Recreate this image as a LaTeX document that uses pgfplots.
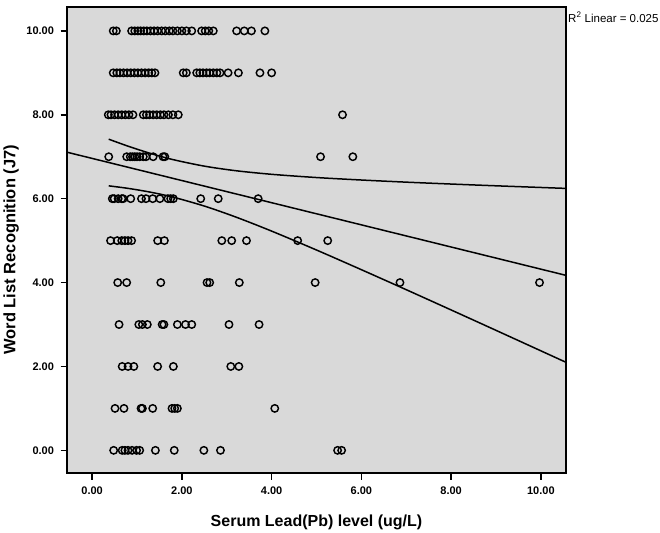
\documentclass[border=0pt]{standalone}
\usepackage{fontspec}
\setmainfont{Liberation Sans}
\usepackage{pgfplots}
\pgfplotsset{compat=1.18}
\definecolor{bggray}{RGB}{217,217,217}
\begin{document}
\begin{tikzpicture}[x=1pt,y=1pt]
\useasboundingbox (0,0) rectangle (660,532);
\begin{axis}[
  name=ax,
  at={(67pt,59pt)}, anchor=south west,
  width=499pt, height=466pt, scale only axis,
  xmin=-0.56, xmax=10.56, ymin=-0.54, ymax=10.57,
  axis background/.style={fill=bggray},
  axis line style={line width=1.6pt},
  xtick={0,2,4,6,8,10}, ytick={0,2,4,6,8,10},
  tick align=outside, xtick pos=bottom, ytick pos=left,
  major tick length=6.5pt, tick style={line width=1.5pt, black},
  ticklabel style={font=\fontsize{11}{13}\selectfont\bfseries},
  xticklabel style={yshift=-4pt},
  yticklabel style={xshift=-3pt},
  xlabel={Serum Lead(Pb) level (ug/L)},
  ylabel={Word List Recognition (J7)},
  xlabel style={at={(axis description cs:0.5,-0.105)}, anchor=center, font=\fontsize{16}{18}\selectfont\bfseries},
  ylabel style={at={(axis description cs:-0.112,0.479)}, anchor=center, font=\fontsize{16.5}{18}\selectfont\bfseries},
  clip=false,
  /pgf/number format/.cd, fixed, fixed zerofill, precision=2, assume math mode=true,
]
% scatter points
\addplot[only marks, mark=o, mark size=3.7pt, mark options={line width=1.45pt, draw=black}] table {
x y
0.47 10
0.54 10
0.88 10
0.95 10
1.02 10
1.08 10
1.15 10
1.22 10
1.30 10
1.38 10
1.46 10
1.55 10
1.63 10
1.72 10
1.80 10
1.90 10
2.00 10
2.10 10
2.22 10
2.44 10
2.52 10
2.60 10
2.70 10
3.22 10
3.39 10
3.55 10
3.85 10
0.47 9
0.55 9
0.62 9
0.70 9
0.78 9
0.86 9
0.94 9
1.02 9
1.10 9
1.18 9
1.26 9
1.33 9
1.40 9
2.03 9
2.10 9
2.33 9
2.40 9
2.47 9
2.55 9
2.62 9
2.70 9
2.78 9
2.85 9
3.03 9
3.26 9
3.74 9
4.00 9
0.36 8
0.42 8
0.50 8
0.58 8
0.66 8
0.74 8
0.82 8
0.91 8
1.14 8
1.21 8
1.28 8
1.36 8
1.44 8
1.52 8
1.60 8
1.70 8
1.80 8
1.92 8
5.58 8
0.37 7
0.77 7
0.85 7
0.90 7
0.95 7
1.00 7
1.06 7
1.14 7
1.20 7
1.36 7
1.58 7
1.62 7
5.09 7
5.81 7
0.45 6
0.49 6
0.58 6
0.66 6
0.69 6
0.86 6
1.10 6
1.20 6
1.35 6
1.51 6
1.69 6
1.75 6
1.81 6
2.42 6
2.81 6
3.70 6
0.41 5
0.56 5
0.66 5
0.73 5
0.80 5
0.88 5
1.46 5
1.61 5
2.89 5
3.11 5
3.44 5
4.58 5
5.25 5
0.57 4
0.77 4
1.53 4
2.56 4
2.62 4
3.28 4
4.97 4
6.86 4
9.97 4
0.60 3
1.04 3
1.12 3
1.23 3
1.56 3
1.60 3
1.90 3
2.08 3
2.22 3
3.05 3
3.72 3
0.67 2
0.80 2
0.93 2
1.46 2
1.81 2
3.09 2
3.27 2
0.51 1
0.71 1
1.09 1
1.12 1
1.35 1
1.78 1
1.84 1
1.90 1
4.07 1
0.48 0
0.67 0
0.73 0
0.80 0
0.89 0
0.99 0
1.06 0
1.41 0
1.83 0
2.49 0
2.86 0
5.47 0
5.56 0
};
% fit line
\addplot[black, line width=1.5pt] coordinates {(-0.56,7.108) (10.56,4.172)};
% upper band
\addplot[black, line width=1.5pt, smooth] coordinates {
(0.37,7.418) (0.8,7.252) (1.3,7.079) (1.8,6.932) (2.5,6.776) (3.2,6.667) (4.0,6.581) (5.0,6.504) (6.0,6.445) (7.0,6.394) (8.0,6.349) (9.0,6.307) (10.56,6.245)};
% lower band
\addplot[black, line width=1.5pt, smooth] coordinates {
(0.37,6.306) (0.8,6.246) (1.3,6.155) (1.8,6.038) (2.5,5.824) (3.2,5.563) (4.0,5.227) (5.0,4.776) (6.0,4.307) (7.0,3.830) (8.0,3.347) (9.0,2.861) (10.56,2.099)};
\end{axis}
\node[anchor=north west, inner sep=0pt, font=\fontsize{11.5}{13}\selectfont] at ([xshift=2pt,yshift=-5pt]ax.north east) {R\textsuperscript{2} Linear = 0.025};
\end{tikzpicture}
\end{document}
